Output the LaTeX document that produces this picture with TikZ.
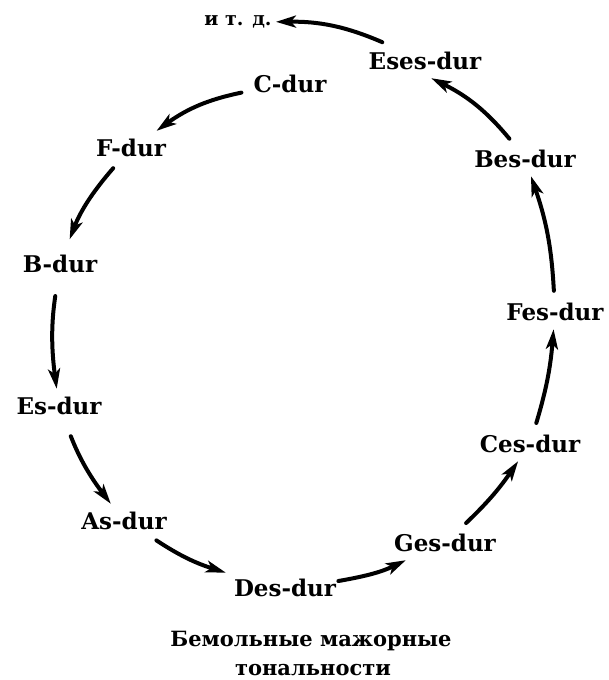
\documentclass[tikz,border=0pt]{standalone}
\usepackage{fontspec}
\setmainfont{DejaVu Serif}
\usetikzlibrary{arrows.meta}

\begin{document}
\begin{tikzpicture}[x=1pt, y=1pt, line width=0.6pt,
  key/.style={font=\bfseries\fontsize{23}{28}\selectfont, inner sep=8pt},
  flow/.style={line width=4pt, line cap=round, shorten <=4pt, -{Stealth[length=20pt, width=12pt, inset=5pt]}},
  ]
  \useasboundingbox (0,0) rectangle (609,680);
  % keys of the circle
  \node[key] (c) at (290,596) {C-dur};
  \node[key] (f) at (131,532) {F-dur};
  \node[key] (b) at (60,416) {B-dur};
  \node[key] (es) at (59,274) {Es-dur};
  \node[key] (as) at (124,159) {As-dur};
  \node[key] (des) at (285,92) {Des-dur};
  \node[key] (ges) at (445,137) {Ges-dur};
  \node[key] (ces) at (530,236) {Ces-dur};
  \node[key] (fes) at (555,368) {Fes-dur};
  \node[key] (bes) at (525,521) {Bes-dur};
  \node[key] (eses) at (425,619) {Eses-dur};
  \node[font=\bfseries\fontsize{19}{22}\selectfont, inner sep=4pt] (etc) at (238,658) {и т. д.};
  % arrows
  \draw[flow] (c) to[bend right=12] (f);
  \draw[flow, shorten >=8pt] (f) to[bend right=10] (b);
  \draw[flow, shorten <=15pt] (b) to[bend right=8] (es);
  \draw[flow, shorten <=14pt] (es) to[bend right=8] (as);
  \draw[flow] (as) to[bend right=8] (des);
  \draw[flow, shorten <=-6pt] (des) to[bend right=8] (ges);
  \draw[flow] (ges) to[bend right=6] (ces);
  \draw[flow] (ces) to[bend right=6] (fes);
  \draw[flow] (fes) to[bend right=8] (bes);
  \draw[flow] (bes) to[bend right=12] (eses.-70);
  \draw[flow] (eses) to[bend right=12] (etc);
  % caption
  \node[font=\bfseries\fontsize{21}{26}\selectfont, anchor=base] (cap1) at (311,33) {Бемольные мажорные};
  \node[font=\bfseries\fontsize{21}{26}\selectfont, anchor=base] (cap2) at (313,5) {тональности};
\end{tikzpicture}
\end{document}
